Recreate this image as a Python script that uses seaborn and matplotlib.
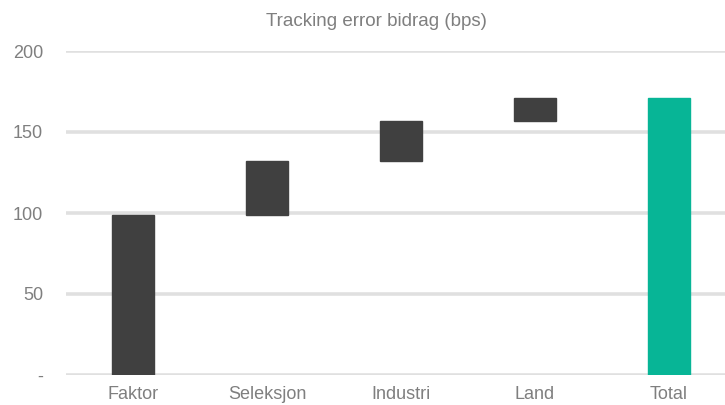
import pandas as pd
import seaborn as sns
import matplotlib.pyplot as plt

categories = ['Faktor', 'Seleksjon', 'Industri', 'Land', 'Total']
contributions = [99, 33, 25, 14]
title = 'Tracking error bidrag (bps)'
y_ticks = [0, 50, 100, 150, 200]
y_tick_labels = ['-', '50', '100', '150', '200']

# waterfall: each step starts where the previous ended, total from zero
total = sum(contributions)
values = contributions + [total]
bottoms = [sum(contributions[:i]) for i in range(len(contributions))] + [0]
colors = ['#404040'] * len(contributions) + ['#07B596']

df = pd.DataFrame({'category': categories, 'value': values, 'bottom': bottoms})

sns.set_style('white')
plt.rcParams['font.family'] = ['Liberation Sans', 'DejaVu Sans']

fig = plt.figure(figsize=(7.25, 4.05), dpi=100)
ax = fig.add_axes([66 / 725, 30 / 405, 670 / 725, 324 / 405])

sns.barplot(data=df, x='category', y='value', bottom=df['bottom'].values,
            width=0.31, color='#404040', saturation=1, errorbar=None, ax=ax)
for patch, c in zip(ax.patches, colors):
    patch.set_facecolor(c)
    patch.set_edgecolor(c)

ax.set_ylim(0, 200)
ax.set_yticks(y_ticks)
ax.set_yticklabels(y_tick_labels)
ax.yaxis.grid(True, color='#e0e0e0', linewidth=2.6)
ax.set_axisbelow(True)
for s in ax.spines.values():
    s.set_visible(False)
ax.tick_params(axis='both', length=0, colors='#7f7f7f', labelsize=13)
ax.tick_params(axis='y', pad=16.5)
ax.tick_params(axis='x', pad=8)
ax.set_xlabel('')
ax.set_ylabel('')
fig.text(376 / 725, 1 - 22 / 405, title, ha='center', va='center',
         color='#7f7f7f', fontsize=13.5)

fig.savefig('out.png', dpi=100)
